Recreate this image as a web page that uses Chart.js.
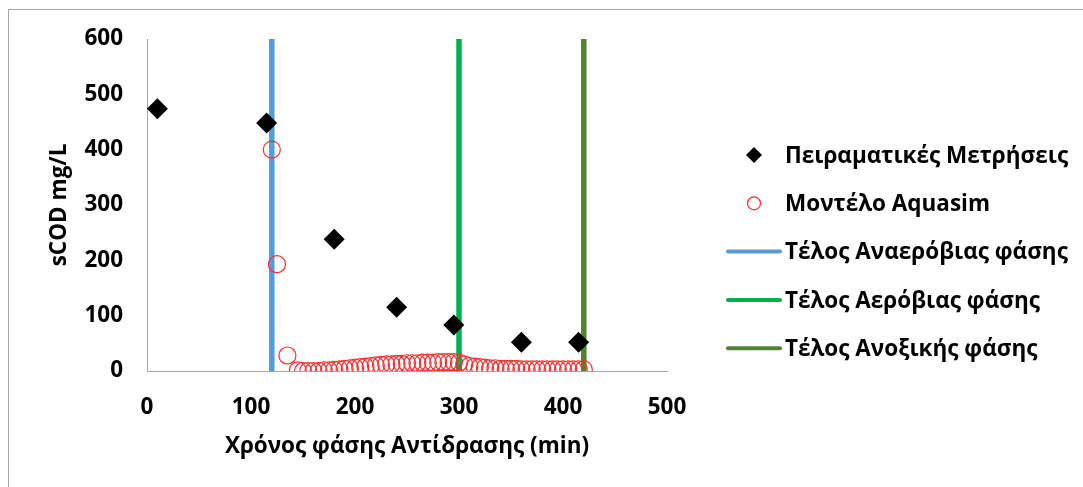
<!DOCTYPE html>
<html lang="el">
<head>
<meta charset="UTF-8" />
<title>sCOD - Aquasim</title>
<script src="https://cdn.jsdelivr.net/npm/chart.js"></script>
<style>
  html, body { margin: 0; padding: 0; background: #fff; }
  body { width: 1083px; height: 487px; overflow: hidden; position: relative; }
  #frame {
    position: absolute; left: 8px; top: 9px; width: 1200px; height: 600px;
    border-left: 1px solid #a6a6a6; border-top: 1px solid #a6a6a6;
  }
  #wrap { position: absolute; left: 0; top: 0; width: 1083px; height: 487px; }
</style>
</head>
<body>
<div id="frame"></div>
<div id="wrap"><canvas id="codChart"></canvas></div>
<script>
  // experimental measurements (min, mg/L)
  const measTime = [10, 115, 180, 240, 295, 360, 415];
  const measCOD = [474, 448, 238, 115, 83, 52, 52];

  // Aquasim model output
  const modelTime = [120, 125, 135, 145, 150, 155, 160, 165, 170, 175, 180, 185, 190, 195,
    200, 205, 210, 215, 220, 225, 230, 235, 240, 245, 250, 255, 260, 265, 270, 275, 280,
    285, 290, 295, 300, 305, 310, 315, 320, 325, 330, 335, 340, 345, 350, 355, 360, 365,
    370, 375, 380, 385, 390, 395, 400, 405, 410, 415, 420];
  const modelCOD = [400, 193, 28, 1, 0, 0, 0, 0, 1, 1, 2, 3, 4, 5,
    6, 7, 8, 9, 10, 11, 12, 12, 13, 13, 14, 14, 14, 15, 15, 15, 16,
    16, 16, 16, 15, 12, 9, 8, 7, 6, 5, 5, 4, 4, 4, 4, 3, 3,
    3, 3, 3, 3, 3, 3, 3, 3, 3, 3, 3];

  // end of each phase (vertical lines)
  const phaseEnds = [120, 300, 420];
  const phaseNames = ["Τέλος Αναερόβιας φάσης", "Τέλος Αερόβιας φάσης", "Τέλος Ανοξικής φάσης"];
  const phaseColors = ["#5b9bd5", "#00b050", "#548235"];

  const xTicks = [0, 100, 200, 300, 400, 500];
  const yTicks = [0, 100, 200, 300, 400, 500, 600];

  const FONT = { family: "'Open Sans', sans-serif", size: 22.5, weight: "bold" };

  const toPoints = (xs, ys) => xs.map((x, i) => ({ x: x, y: ys[i] }));

  const datasets = [
    {
      label: "Πειραματικές Μετρήσεις",
      data: toPoints(measTime, measCOD),
      pointStyle: "rectRot",
      pointRadius: 10.5,
      backgroundColor: "#000",
      borderColor: "#000",
      borderWidth: 0,
      showLine: false,
      order: 0,
    },
    {
      label: "Μοντέλο Aquasim",
      data: toPoints(modelTime, modelCOD),
      pointStyle: "circle",
      pointRadius: 8.5,
      backgroundColor: "rgba(0,0,0,0)",
      borderColor: "#ff2d2d",
      borderWidth: 1.2,
      showLine: false,
      order: 0,
    },
  ];
  phaseEnds.forEach((t, i) => {
    datasets.push({
      label: phaseNames[i],
      data: [{ x: t, y: yTicks[0] }, { x: t, y: yTicks[yTicks.length - 1] }],
      showLine: true,
      borderColor: phaseColors[i],
      backgroundColor: phaseColors[i],
      borderWidth: 5.5,
      pointRadius: 0,
      order: 1,
    });
  });

  // legend on the right, drawn next to the plot
  const sideLegend = {
    id: "sideLegend",
    afterDraw(chart) {
      const ctx = chart.ctx;
      const cx = 754, textX = 785, y0 = 155, step = 48.3;
      ctx.save();
      chart.data.datasets.forEach((ds, i) => {
        const y = y0 + i * step;
        if (ds.showLine) {
          ctx.strokeStyle = ds.borderColor;
          ctx.lineWidth = 4;
          ctx.lineCap = "round";
          ctx.beginPath();
          ctx.moveTo(cx - 26, y);
          ctx.lineTo(cx + 26, y);
          ctx.stroke();
        } else if (ds.pointStyle === "rectRot") {
          ctx.fillStyle = ds.backgroundColor;
          ctx.beginPath();
          ctx.moveTo(cx - 8, y);
          ctx.lineTo(cx, y - 8);
          ctx.lineTo(cx + 8, y);
          ctx.lineTo(cx, y + 8);
          ctx.closePath();
          ctx.fill();
        } else {
          ctx.strokeStyle = ds.borderColor;
          ctx.lineWidth = 1.2;
          ctx.beginPath();
          ctx.arc(cx, y, 6.5, 0, Math.PI * 2);
          ctx.stroke();
        }
        ctx.fillStyle = "#000";
        ctx.font = FONT.weight + " " + FONT.size + "px " + FONT.family;
        ctx.textAlign = "left";
        ctx.textBaseline = "middle";
        ctx.fillText(ds.label, textX, y + 1.3);
      });
      ctx.restore();
    },
  };

  new Chart(document.getElementById("codChart"), {
    type: "scatter",
    data: { datasets: datasets },
    options: {
      responsive: true,
      maintainAspectRatio: false,
      animation: false,
      layout: { padding: { top: 39, right: 416, bottom: 0, left: 0 } },
      plugins: { legend: { display: false }, tooltip: { enabled: false } },
      scales: {
        x: {
          type: "linear",
          min: xTicks[0],
          max: xTicks[xTicks.length - 1],
          afterBuildTicks: (s) => { s.ticks = xTicks.map((v) => ({ value: v })); },
          afterFit: (s) => { s.height = 116; },
          ticks: { padding: 23, color: "#000", font: FONT },
          grid: { display: false, drawTicks: false },
          border: { color: "#a6a6a6", width: 1 },
          title: {
            display: true,
            text: "Χρόνος φάσης Αντίδρασης (min)",
            color: "#000",
            font: FONT,
            padding: { top: 0, bottom: 27 },
          },
        },
        y: {
          type: "linear",
          min: yTicks[0],
          max: yTicks[yTicks.length - 1],
          afterBuildTicks: (s) => { s.ticks = yTicks.map((v) => ({ value: v })); },
          afterFit: (s) => { s.width = 147; },
          ticks: { padding: 24, color: "#000", font: FONT },
          grid: { display: false, drawTicks: false },
          border: { color: "#a6a6a6", width: 1 },
          title: {
            display: true,
            text: "sCOD mg/L",
            color: "#000",
            font: FONT,
            padding: { top: 46, bottom: 0 },
          },
        },
      },
    },
    plugins: [sideLegend],
  });
</script>
</body>
</html>
